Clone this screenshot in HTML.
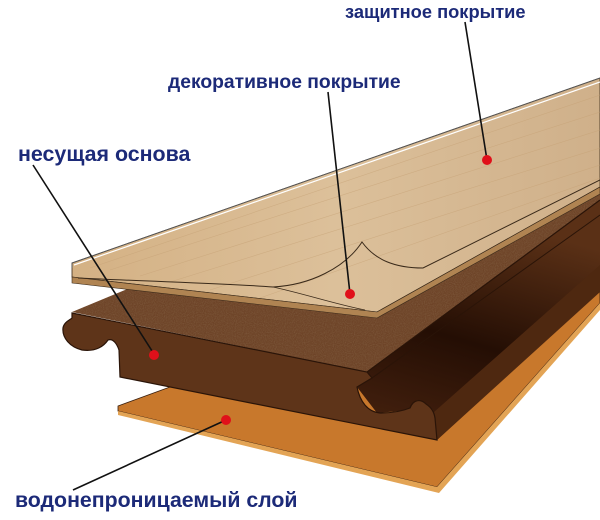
<!DOCTYPE html>
<html><head><meta charset="utf-8"><style>
html,body{margin:0;padding:0;background:#fff;}
svg{display:block}
text{font-family:"Liberation Sans",Arial,sans-serif;font-weight:bold;font-size:20px;fill:#1c2a78;}
</style></head><body>
<svg width="600" height="520" viewBox="0 0 600 520" xmlns="http://www.w3.org/2000/svg">
<defs>
<filter id="speck" x="0" y="0" width="100%" height="100%">
<feTurbulence type="fractalNoise" baseFrequency="0.9" numOctaves="2" result="n"/>
<feColorMatrix type="matrix" values="0 0 0 0 0.25  0 0 0 0 0.14  0 0 0 0 0.07  0 0 0 1.4 -0.5" in="n" result="c"/>
<feComposite in="c" in2="SourceGraphic" operator="in"/>
</filter>
<linearGradient id="wood" x1="0" y1="0" x2="1" y2="0">
<stop offset="0" stop-color="#d4b184"/><stop offset="0.5" stop-color="#dcc09a"/><stop offset="1" stop-color="#cfb08a"/>
</linearGradient>
<linearGradient id="groove" x1="0" y1="1" x2="0.3" y2="0">
<stop offset="0" stop-color="#4a2410"/><stop offset="0.5" stop-color="#240e04"/><stop offset="1" stop-color="#5a3016"/>
</linearGradient>
</defs>
<!-- orange waterproof layer -->
<polygon points="118,406 600,230 600,303 437,487 118,411" fill="#c8782c" stroke="#3a2010" stroke-width="0.8"/>
<polygon points="118,411 437,487 600,303 600,310 439,493 118,415" fill="#e3a455"/>
<!-- core top face -->
<polygon points="72,312 137,285 600,95 600,200 367,372" fill="#6e4428"/>
<polygon points="72,312 137,285 600,95 600,200 367,372" fill="#000" filter="url(#speck)" opacity="0.7"/>
<!-- core right side (dark groove) -->
<polygon points="367,372 600,200 600,290 437,440 433,410 417,400 410,410 377,413 357,387" fill="url(#groove)"/>
<polygon points="425,420 600,265 600,292 437,440" fill="#4e2810"/>
<polyline points="367,372 600,200" stroke="#2a1408" stroke-width="1.2" fill="none"/>
<polyline points="372,378 600,215" stroke="#2a1408" stroke-width="1" fill="none"/>
<!-- core front face -->
<path d="M72,313 L367,372 L372,378 L357,387 C360,402 368,412 380,413 C395,413 405,410 410,408 C413,400 420,398 426,404 C432,408 434,412 435,418 L437,440 L120,377 L119,350 C117,344 113,338 108,340 C104,346 96,352 82,350 C70,347 62,338 63,328 C64,322 70,320 72,318 Z" fill="#5e3419" stroke="#2a1408" stroke-width="1.2"/>
<!-- wood decorative layer -->
<polygon points="72,263 600,78 600,187 377,312 72,277" fill="url(#wood)" stroke="#3a2a1a" stroke-width="0.8"/>
<g stroke="#c6a276" stroke-width="0.6" opacity="0.6">
<line x1="90" y1="268" x2="600" y2="95"/><line x1="110" y1="270" x2="600" y2="112"/>
<line x1="140" y1="276" x2="600" y2="130"/><line x1="170" y1="282" x2="600" y2="148"/>
<line x1="210" y1="290" x2="600" y2="165"/><line x1="260" y1="298" x2="600" y2="178"/>
</g>
<polygon points="72,277 377,312 600,187 600,194 377,318 72,283" fill="#b08452" stroke="#3a2a1a" stroke-width="0.6"/>
<!-- protective film edge -->
<polyline points="72,268 72,263 600,78" stroke="#555" stroke-width="1" fill="none"/>
<polyline points="74,265 600,82" stroke="#fff" stroke-width="1.2" fill="none"/>
<!-- peeled curl -->
<path d="M78,278 C160,282 220,283 273,287 C310,285 345,268 362,242 C375,260 395,268 423,268 L600,180" stroke="#3a2a1a" stroke-width="1" fill="none"/>
<path d="M273,287 C305,294 335,304 365,310" stroke="#3a2a1a" stroke-width="0.8" fill="none"/>
<!-- leader lines -->
<g stroke="#111" stroke-width="1.6" fill="none">
<line x1="465" y1="22" x2="487" y2="160"/>
<line x1="328" y1="92" x2="350" y2="294"/>
<line x1="33" y1="165" x2="154" y2="354"/>
<line x1="73" y1="490" x2="226" y2="420"/>
</g>
<g fill="#e0101a">
<circle cx="487" cy="160" r="5"/><circle cx="350" cy="294" r="5"/>
<circle cx="154" cy="355" r="5"/><circle cx="226" cy="420" r="5"/>
</g>
<text x="345" y="18" style="font-size:18.3px">защитное покрытие</text>
<text x="168" y="88" style="font-size:19.3px">декоративное покрытие</text>
<text x="18" y="161" style="font-size:21.4px">несущая основа</text>
<text x="15" y="507" style="font-size:21.3px">водонепроницаемый слой</text>
</svg>
</body></html>
